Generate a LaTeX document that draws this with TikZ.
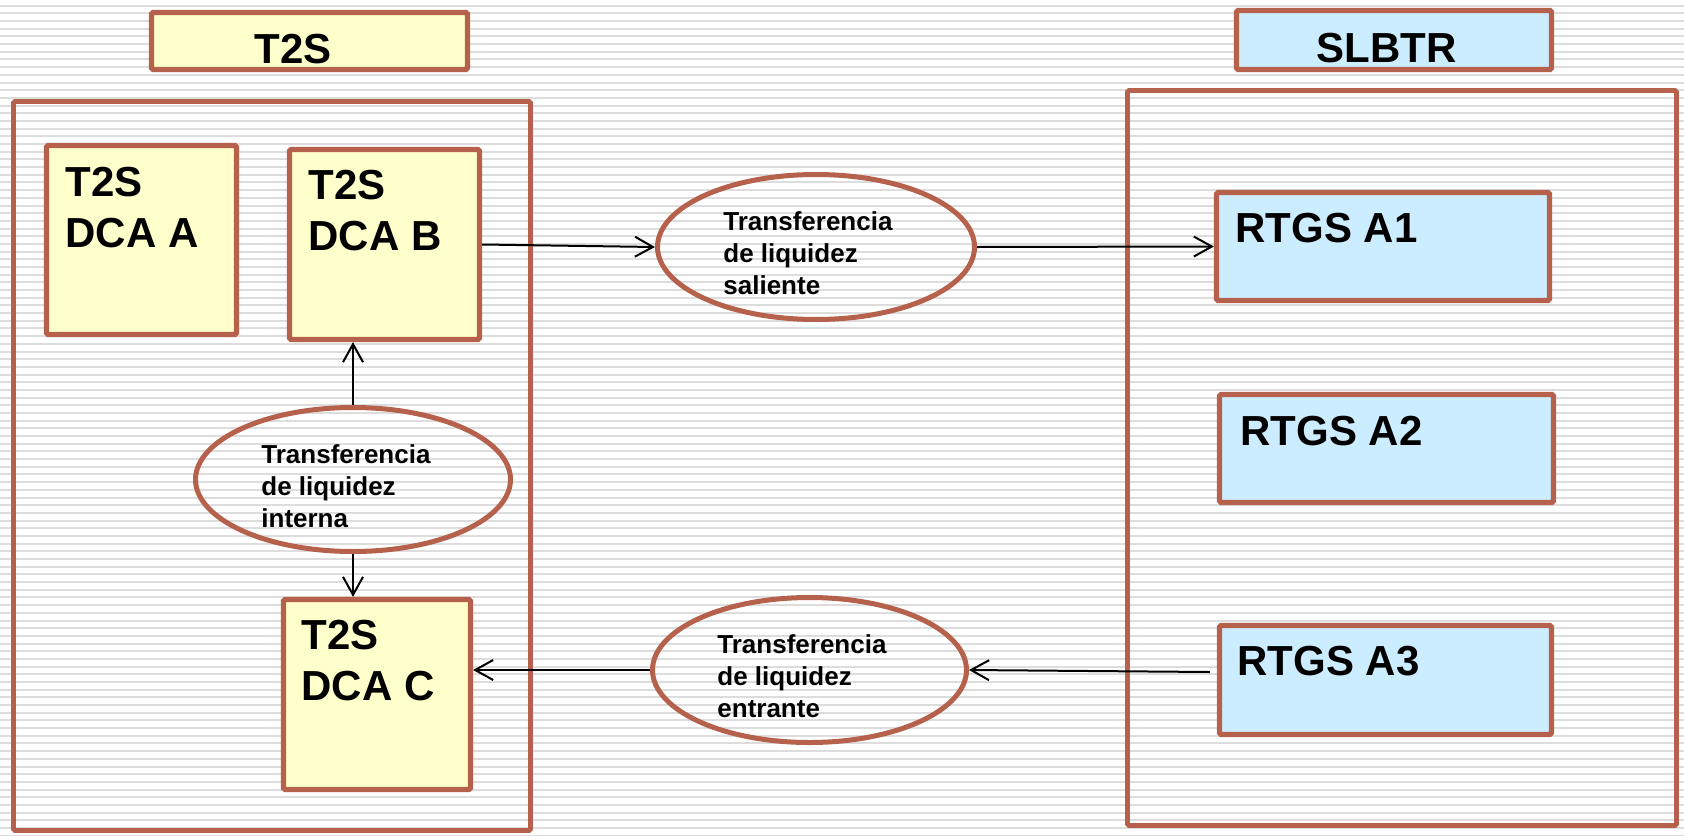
\documentclass[tikz,border=0pt]{standalone}
\usepackage{fontspec}
\setmainfont{Liberation Sans}
\usetikzlibrary{arrows.meta,shapes.geometric,calc}
\definecolor{brd}{HTML}{B5614C}
\definecolor{ylw}{HTML}{FFFFCC}
\definecolor{blu}{HTML}{CCECFF}
\definecolor{stripe}{HTML}{DDDDDD}
\begin{document}
\begin{tikzpicture}[x=0.5pt,y=-0.5pt,
  box/.style={rectangle,draw=brd,line width=2.6pt,rounded corners=0.8pt,inner sep=0pt},
  ybox/.style={box,fill=ylw},
  bbox/.style={box,fill=blu},
  frame/.style={rectangle,draw=brd,line width=2.4pt,rounded corners=0.8pt,inner sep=0pt},
  oval/.style={ellipse,draw=brd,line width=2.5pt,inner sep=0pt},
  big/.style={font=\bfseries\fontsize{21pt}{25.5pt}\selectfont,align=left,anchor=base west,inner sep=0pt},
  small/.style={font=\bfseries\fontsize{13pt}{16pt}\selectfont,align=left,anchor=base west,inner sep=0pt},
  arr/.style={draw=black,line width=1pt,-{Straight Barb[length=9pt,width=10pt,line width=1pt]}}
]
\useasboundingbox (0,0) rectangle (1684,835);
\fill[white] (0,0) rectangle (1684,835);
\foreach \k in {0,...,108} \draw[stripe,line width=1pt] (0,5.7+7.685*\k) -- (1684,5.7+7.685*\k);

% titles
\node[ybox,minimum width=316*0.5pt,minimum height=57*0.5pt] (t2stitle) at (309.5,41) {};
\node[bbox,minimum width=315*0.5pt,minimum height=59*0.5pt] (slbtrtitle) at (1394,40) {};
\node[big] (t2stitletxt) at (254,63) {T2S};
\node[big] (slbtrtxt) at (1316,62) {SLBTR};

% containers
\node[frame,minimum width=517*0.5pt,minimum height=729*0.5pt] (t2sframe) at (272,466) {};
\node[frame,minimum width=549*0.5pt,minimum height=735*0.5pt] (slbtrframe) at (1402,458) {};

% T2S boxes
\node[ybox,minimum width=190*0.5pt,minimum height=189*0.5pt] (dcaa) at (141.5,240) {};
\node[ybox,minimum width=190*0.5pt,minimum height=190*0.5pt] (dcab) at (384.5,244.5) {};
\node[ybox,minimum width=187*0.5pt,minimum height=190*0.5pt] (dcac) at (377,694.5) {};
\node[big] (txA) at (65,247) {T2S\\DCA A};
\node[big] (txB) at (308,250) {T2S\\DCA B};
\node[big] (txC) at (301,700) {T2S\\DCA C};

% RTGS boxes
\node[bbox,minimum width=333*0.5pt,minimum height=108*0.5pt] (a1) at (1383,246.5) {};
\node[bbox,minimum width=334*0.5pt,minimum height=108*0.5pt] (a2) at (1386.5,448.5) {};
\node[bbox,minimum width=332*0.5pt,minimum height=109*0.5pt] (a3) at (1385.5,680) {};
\node[big] (txA1) at (1235,242) {RTGS A1};
\node[big] (txA2) at (1240,445) {RTGS A2};
\node[big] (txA3) at (1237,675) {RTGS A3};

% ellipses
\node[oval,minimum width=317*0.5pt,minimum height=145*0.5pt] (sal) at (816,247) {};
\node[oval,minimum width=315*0.5pt,minimum height=144*0.5pt] (int) at (353,479.5) {};
\node[oval,minimum width=314*0.5pt,minimum height=145*0.5pt] (ent) at (809.5,670) {};
\node[small] (txsal) at (723,294) {Transferencia\\de liquidez\\saliente};
\node[small] (txint) at (261,527) {Transferencia\\de liquidez\\interna};
\node[small] (txent) at (717,717) {Transferencia\\de liquidez\\entrante};

% connectors
\draw[arr] (dcab.east) -- (sal.west);
\draw[arr] (sal.east) -- (a1.west);
\draw[arr] (int.north) -- (int.north |- dcab.south);
\draw[arr] (int.south) -- (int.south |- dcac.north);
\draw[arr] ($(ent.east -| a3.west)+(-7,2)$) -- (ent.east);
\draw[arr] (ent.west) -- (ent.west -| dcac.east);
\end{tikzpicture}
\end{document}
